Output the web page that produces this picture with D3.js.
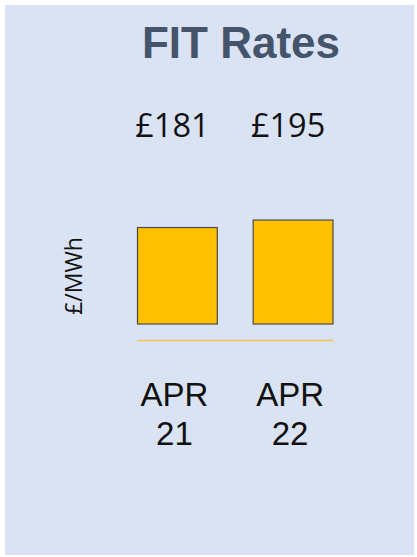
<!DOCTYPE html>
<html><head><meta charset="utf-8">
<script src="https://cdn.jsdelivr.net/npm/d3@7"></script>
<style>html,body{margin:0;padding:0;background:#fff;}svg{display:block;}</style>
</head><body>
<script>
const categories = [["APR","21"],["APR","22"]];
const values = [181, 195];
const valueLabels = ["£181","£195"];
const title = "FIT Rates";
const yTitle = "£/MWh";

const W = 417, H = 557;
const svg = d3.select("body").append("svg").attr("width", W).attr("height", H);
svg.append("rect").attr("x",5).attr("y",5).attr("width",409).attr("height",550).attr("fill","#dae3f3");

const x = d3.scaleBand().domain(categories.map(c=>c.join(" "))).range([137.5, 333]).paddingInner(0.31).paddingOuter(0);
const y = d3.scaleLinear().domain([0, 200]).range([324, 217.4]);

svg.append("text").attr("x",241).attr("y",58).attr("text-anchor","middle")
  .attr("font-family","Liberation Sans, Arial, sans-serif").attr("font-weight","bold")
  .attr("font-size",44).attr("fill","#44546a").text(title);

svg.selectAll("rect.bar").data(values).enter().append("rect").attr("class","bar")
  .attr("x",(d,i)=>x(categories[i].join(" ")))
  .attr("y",d=>y(d))
  .attr("width",x.bandwidth())
  .attr("height",d=>y(0)-y(d))
  .attr("fill","#ffc000").attr("stroke","#4a4a4a").attr("stroke-width",1.2);

svg.selectAll("text.val").data(values).enter().append("text").attr("class","val")
  .attr("x",(d,i)=>x(categories[i].join(" "))+x.bandwidth()/2-5)
  .attr("y",137).attr("text-anchor","middle")
  .attr("font-family","Open Sans, sans-serif").attr("font-size",32.5).attr("fill","#111")
  .text((d,i)=>valueLabels[i]);

const r = x.range();
svg.append("line").attr("x1",r[0]).attr("x2",r[1]).attr("y1",340.5).attr("y2",340.5)
  .attr("stroke","#f2c34a").attr("stroke-width",1.5);

const cat = svg.selectAll("text.cat").data(categories).enter().append("text").attr("class","cat")
  .attr("text-anchor","middle")
  .attr("font-family","Liberation Sans, Arial, sans-serif").attr("font-size",33).attr("fill","#111");
cat.each(function(c,i){
  const cx = x(c.join(" "))+x.bandwidth()/2-3;
  d3.select(this).selectAll("tspan").data(c).enter().append("tspan")
    .attr("x",cx).attr("y",(d,j)=>406+j*39).text(d=>d);
});

svg.append("text").attr("transform","translate(82,276) rotate(-90)").attr("text-anchor","middle")
  .attr("font-family","Open Sans, sans-serif").attr("font-size",23).attr("fill","#111").text(yTitle);
</script>
</body></html>
